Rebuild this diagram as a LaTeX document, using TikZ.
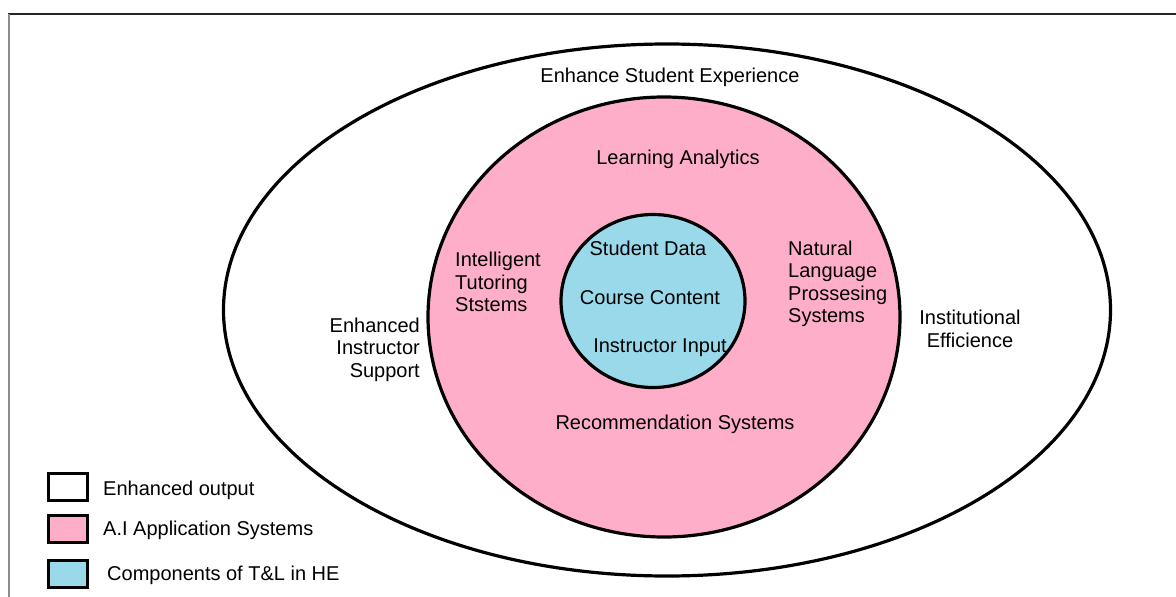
\documentclass[tikz,border=0pt]{standalone}
\usepackage{fontspec}
\setmainfont{Liberation Sans}
\usetikzlibrary{positioning,shapes.geometric}
\definecolor{rose}{RGB}{255,174,201}
\definecolor{turq}{RGB}{153,217,234}

\begin{document}
\begin{tikzpicture}[
      x=1pt, y=-1pt,
      every node/.style={font=\fontsize{20pt}{22.5pt}\selectfont, inner sep=0pt},
      ring/.style={draw, ellipse, line width=3.2pt, inner sep=0pt},
      keybox/.style={draw, line width=3pt, minimum width=39pt, minimum height=27pt},
      txt/.style={align=left, anchor=west},
    ]
    \useasboundingbox (0,0) rectangle (1176,597);

    % Page frame
    \draw[line width=1.5pt, black!85] (8,14) -- (1176,14);
    \draw[line width=2pt, black!45] (9,14) -- (9,597);

    % Rings
    \node[ring, fill=white, minimum width=887pt, minimum height=532pt] (outer) at (667,310) {};
    \node[ring, fill=rose, minimum width=472pt, minimum height=440pt] (ai) at (664,317) {};
    \node[ring, fill=turq, minimum width=184pt, minimum height=173pt] (core) at (653,301) {};

    % Outer ring texts
    \node (exper) at (670,77.5) {Enhance Student Experience};
    \node[align=right, anchor=east] (support) at (420,349.5) {Enhanced\\Instructor\\Support};
    \node[align=center] (effic) at (970,329) {Institutional\\Efficience};

    % AI systems
    \node (analytics) at (678,159) {Learning Analytics};
    \node[txt] (tutoring) at (455,282) {Intelligent\\Tutoring\\Ststems};
    \node[txt] (nlp) at (788,284) {Natural\\Language\\Prossesing\\Systems};
    \node (recsys) at (675,424) {Recommendation Systems};

    % Core components
    \node (studdata) at (648,248.5) {Student Data};
    \node (content) at (650,298) {Course Content};
    \node (instinput) at (660,348) {Instructor Input};

    % Legend
    \node[keybox, fill=white] (keyout) at (68,487) {};
    \node[keybox, fill=rose] (keyai) at (68,528.5) {};
    \node[keybox, fill=turq] (keycore) at (68,573.5) {};
    \node[txt, right=14pt of keyout, yshift=-3pt] (outtxt) {Enhanced output};
    \node[txt, right=14pt of keyai, yshift=-2pt] (aitxt) {A.I Application Systems};
    \node[txt, right=18pt of keycore, yshift=-2pt] (coretxt) {Components of T\&L in HE};
  \end{tikzpicture}
\end{document}
